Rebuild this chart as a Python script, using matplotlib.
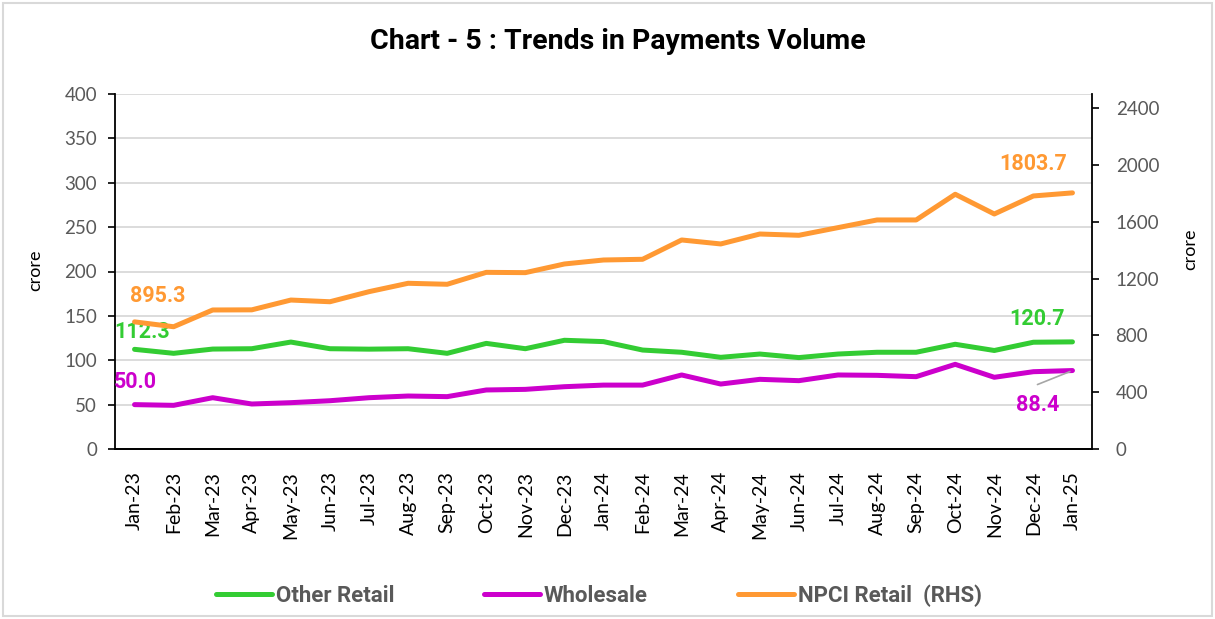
import matplotlib
matplotlib.use("Agg")
import matplotlib.pyplot as plt
from matplotlib.patches import Rectangle

plt.rcParams['font.family'] = ['Lato', 'DejaVu Sans']
BOLD = ['Roboto', 'DejaVu Sans']

months = ["Jan-23", "Feb-23", "Mar-23", "Apr-23", "May-23", "Jun-23", "Jul-23",
          "Aug-23", "Sep-23", "Oct-23", "Nov-23", "Dec-23", "Jan-24", "Feb-24",
          "Mar-24", "Apr-24", "May-24", "Jun-24", "Jul-24", "Aug-24", "Sep-24",
          "Oct-24", "Nov-24", "Dec-24", "Jan-25"]

other_retail = [112.3, 107.8, 112.6, 113.0, 120.5, 113.0, 112.5, 113.0, 107.8,
                119.0, 113.0, 122.5, 121.0, 111.5, 109.0, 103.3, 107.0, 103.0,
                107.0, 109.0, 109.0, 118.0, 111.0, 120.3, 120.7]
wholesale = [50.0, 49.2, 57.8, 50.7, 52.2, 54.4, 57.8, 59.7, 59.0, 66.5, 67.2,
             70.2, 72.0, 72.0, 83.4, 73.2, 78.5, 77.0, 83.4, 83.0, 81.5, 95.4,
             80.8, 87.1, 88.4]
npci_retail = [895.3, 861, 979, 980, 1049, 1037, 1108, 1167, 1160, 1244, 1242,
               1303, 1331, 1336, 1472, 1444, 1514, 1505, 1559, 1613, 1613, 1794,
               1655, 1782, 1803.7]

title = "Chart - 5 : Trends in Payments Volume"
series_names = ["Other Retail", "Wholesale", "NPCI Retail  (RHS)"]
left_ticks = list(range(0, 401, 50))
right_ticks = list(range(0, 2401, 400))

C_GREEN = "#33CC33"
C_PURPLE = "#CC00CC"
C_ORANGE = "#FF9933"
C_GRID = "#D9D9D9"
C_TICK = "#595959"

W, H = 1215, 619
fig = plt.figure(figsize=(W / 100, H / 100), dpi=100)
fig.patches.append(Rectangle((3 / W, 3 / H), (W - 6) / W, (H - 6) / H,
                             transform=fig.transFigure, fill=False,
                             edgecolor="#D9D9D9", linewidth=1.5))

ax = fig.add_axes([115 / W, 1 - 449 / H, (1092 - 115) / W, (449 - 94) / H])
ax2 = ax.twinx()

x = list(range(len(months)))
lw = 3.6
l1, = ax.plot(x, other_retail, color=C_GREEN, lw=lw, solid_capstyle="round",
              solid_joinstyle="round", label=series_names[0], zorder=3)
l2, = ax.plot(x, wholesale, color=C_PURPLE, lw=lw, solid_capstyle="round",
              solid_joinstyle="round", label=series_names[1], zorder=3)
l3, = ax2.plot(x, npci_retail, color=C_ORANGE, lw=lw, solid_capstyle="round",
               solid_joinstyle="round", label=series_names[2], zorder=3)

ax.set_xlim(-0.5, len(months) - 0.5)
ax.set_ylim(0, 400)
ax2.set_ylim(0, 2500)
ax.set_yticks(left_ticks)
ax2.set_yticks(right_ticks)
ax.set_xticks(x)
ax.set_xticklabels(months, rotation=90, fontsize=14, color="black")
ax.tick_params(axis="x", length=0, pad=16)
ax.tick_params(axis="y", length=5, width=1.2, direction="out", labelsize=13.5,
               labelcolor=C_TICK, pad=8)
ax2.tick_params(axis="y", length=5, width=1.2, direction="out", labelsize=13.5,
                labelcolor=C_TICK, pad=12)

ax.yaxis.grid(True, color=C_GRID, lw=1.3)
ax.set_axisbelow(True)
for a in (ax, ax2):
    a.spines["top"].set_visible(False)
    a.spines["left"].set_linewidth(1.3)
    a.spines["right"].set_linewidth(1.3)
    a.spines["bottom"].set_linewidth(1.3)
ax2.spines["left"].set_visible(False)
ax.spines["right"].set_visible(False)

fig.text(618 / W, 1 - 49 / H, title, ha="center", va="baseline",
         fontsize=20.5, fontweight="bold", color="black", family=BOLD)
fig.text(35 / W, 1 - 270 / H, "crore", rotation=90, ha="center", va="center",
         fontsize=13, color="black")
fig.text(1190 / W, 1 - 249 / H, "crore", rotation=90, ha="center", va="center",
         fontsize=13, color="black")

lab_kw = dict(textcoords="offset pixels", ha="center", va="center",
              fontsize=15.5, fontweight="bold", family=BOLD)
ax.annotate(f"{other_retail[0]:.1f}", (x[0], other_retail[0]), xytext=(8, 17),
            color=C_GREEN, **lab_kw)
ax.annotate(f"{other_retail[-1]:.1f}", (x[-1], other_retail[-1]), xytext=(-35, 23),
            color=C_GREEN, **lab_kw)
ax.annotate(f"{wholesale[0]:.1f}", (x[0], wholesale[0]), xytext=(1, 23),
            color=C_PURPLE, **lab_kw)
ax.annotate(f"{wholesale[-1]:.1f}", (x[-1], wholesale[-1]), xytext=(-35, -34),
            color=C_PURPLE, **lab_kw)
ax.annotate("", (x[-1], wholesale[-1]), xycoords="data",
            xytext=(-35, -14), textcoords="offset pixels",
            arrowprops=dict(arrowstyle="-", color="#A6A6A6", lw=1.2,
                            shrinkA=0, shrinkB=2))
ax2.annotate(f"{npci_retail[0]:.1f}", (x[0], npci_retail[0]), xytext=(23, 26),
             color=C_ORANGE, **lab_kw)
ax2.annotate(f"{npci_retail[-1]:.1f}", (x[-1], npci_retail[-1]), xytext=(-39, 29),
             color=C_ORANGE, **lab_kw)

leg = fig.legend(handles=[l1, l2, l3], labels=series_names, loc="center",
                 bbox_to_anchor=(599 / W, 1 - 596 / H), ncol=3, frameon=False,
                 handlelength=2.5, handletextpad=0.18, columnspacing=4.05,
                 prop=dict(size=16, weight="bold", family=BOLD))
for t in leg.get_texts():
    t.set_color(C_TICK)

fig.savefig("out.png", dpi=100)
